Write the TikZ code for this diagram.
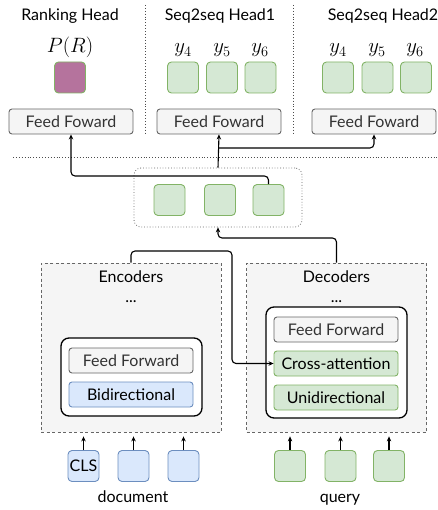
\documentclass[tikz,border=0pt]{standalone}
\usepackage{fontspec}
\setmainfont{Lato}
\usetikzlibrary{arrows.meta}

\definecolor{graybg}{HTML}{F5F5F5}
\definecolor{grayln}{HTML}{666666}
\definecolor{graytx}{HTML}{333333}
\definecolor{bluebg}{HTML}{DAE8FC}
\definecolor{blueln}{HTML}{6C8EBF}
\definecolor{greenbg}{HTML}{D5E8D4}
\definecolor{greenln}{HTML}{82B366}
\definecolor{purplebg}{HTML}{B5739D}

\tikzset{
  txt/.style={font=\fontsize{16}{18}\selectfont},
  mth/.style={font=\fontsize{20.74}{22}\selectfont},
  tok/.style={rounded corners=4pt, minimum width=31pt, minimum height=31pt, inner sep=0pt, line width=0.9pt},
  gtok/.style={tok, draw=greenln, fill=greenbg},
  btok/.style={tok, draw=blueln, fill=bluebg},
  layer/.style={txt, rounded corners=3pt, minimum width=124pt, minimum height=25pt, inner sep=0pt, line width=0.9pt},
  ffbox/.style={layer, draw=grayln, fill=graybg, text=graytx},
  stack/.style={draw=grayln, fill=graybg, dashed, dash pattern=on 3pt off 2.5pt, line width=0.8pt, minimum width=180pt, minimum height=169pt, inner sep=0pt},
  block/.style={draw, rounded corners=8pt, line width=1.3pt, fill=white, inner sep=0pt},
  conn/.style={-{Stealth[length=5pt,width=4.5pt]}, line width=1.1pt, rounded corners=4pt},
  sep/.style={dotted, line width=0.9pt, draw=black!70}
}

\begin{document}
\begin{tikzpicture}[x=1pt,y=-1pt]
\useasboundingbox (0,0) rectangle (437,510);

% heads
\node[txt, anchor=base] (rank) at (70,21) {Ranking Head};
\node[txt, anchor=base] (head1) at (220,21) {Seq2seq Head1};
\node[txt, anchor=base] (head2) at (383,21) {Seq2seq Head2};
\draw[sep] (145,5) -- (145,135);
\draw[sep] (293,5) -- (293,135);

\node[mth, anchor=base] (pr) at (70,53) {$P(R)$};
\node[tok, draw=greenln, fill=purplebg] (score) at (70,77.5) {};

\node[mth, anchor=base] (ya4) at (183,53) {$y_4$};
\node[mth, anchor=base] (ya5) at (222,53) {$y_5$};
\node[mth, anchor=base] (ya6) at (260,53) {$y_6$};
\node[gtok] (a4) at (183,77.5) {};
\node[gtok] (a5) at (222,77.5) {};
\node[gtok] (a6) at (260.5,77.5) {};

\node[mth, anchor=base] (yb4) at (338,53) {$y_4$};
\node[mth, anchor=base] (yb5) at (377,53) {$y_5$};
\node[mth, anchor=base] (yb6) at (415,53) {$y_6$};
\node[gtok] (b4) at (338,77.5) {};
\node[gtok] (b5) at (377.5,77.5) {};
\node[gtok] (b6) at (416,77.5) {};

\node[ffbox] (ff1) at (71,121.5) {Feed Foward};
\node[ffbox] (ff2) at (219,121.5) {Feed Foward};
\node[ffbox] (ff3) at (374,121.5) {Feed Foward};

\draw[sep] (13,157) -- (437,157);

% shared hidden states
\node[draw=grayln, dotted, line width=0.8pt, rounded corners=7pt, minimum width=168pt, minimum height=59pt] (mid) at (218,197.5) {};
\node[gtok] (m1) at (169.5,200) {};
\node[gtok] (m2) at (220,200) {};
\node[gtok] (m3) at (268.5,200) {};

\draw[conn] (m3.north) -- (m3.north |- 0,176) -| (ff1.south);
\draw[conn] (mid.north) -- (ff2.south);
\draw[conn] (mid.north |- 0,148) -| (ff3.south);

% encoder
\node[stack] (enc) at (131,347.5) {};
\node[txt, anchor=base] (enclbl) at (131,282) {Encoders};
\node[txt, anchor=base] (encdots) at (131,302) {...};
\node[block, minimum width=141pt, minimum height=78pt] (encblk) at (131.5,377) {};
\node[ffbox] (encff) at (131,360.5) {Feed Forward};
\node[layer, draw=blueln, fill=bluebg] (bidir) at (131,394.5) {Bidirectional};

% decoder
\node[stack] (dec) at (336.5,347.5) {};
\node[txt, anchor=base] (declbl) at (336.5,282) {Decoders};
\node[txt, anchor=base] (decdots) at (336.5,302) {...};
\node[block, minimum width=141pt, minimum height=111pt] (decblk) at (336.5,362.5) {};
\node[ffbox] (decff) at (336,329.5) {Feed Forward};
\node[layer, draw=greenln, fill=greenbg] (cross) at (336,363.5) {Cross-attention};
\node[layer, draw=greenln, fill=greenbg] (unidir) at (336,397.5) {Unidirectional};

\coordinate (bend) at (232,363.5);
\draw[conn] (enc.north) -- (enc.north |- 0,251) -| (bend) -- (cross.west);
\draw[conn] (dec.north) -- (dec.north |- 0,238) -| (mid.south);

% inputs
\node[btok, txt] (d1) at (83.5,466) {CLS};
\node[btok] (d2) at (133.5,466) {};
\node[btok] (d3) at (183.5,466) {};
\node[gtok] (q1) at (290,466) {};
\node[gtok] (q2) at (340.5,466) {};
\node[gtok] (q3) at (389,466) {};
\foreach \t in {d1,d2,d3}
  \draw[conn, shorten >=4pt] (\t.north) -- (\t.north |- enc.south);
\foreach \t in {q1,q2,q3}
  \draw[conn, shorten >=4pt] (\t.north) -- (\t.north |- dec.south);

\node[txt, anchor=base] (doc) at (133,502) {document};
\node[txt, anchor=base] (query) at (340,502) {query};

\end{tikzpicture}
\end{document}
